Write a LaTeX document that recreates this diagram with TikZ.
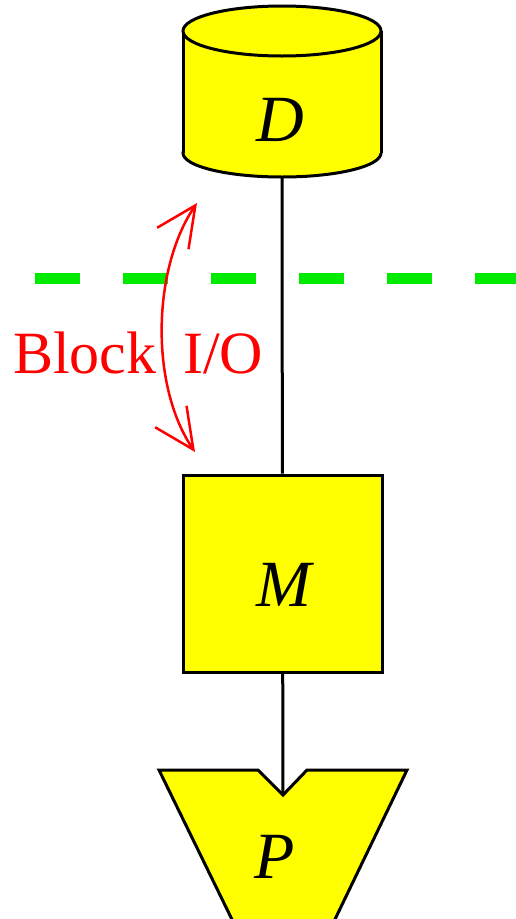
\documentclass[tikz,border=0pt]{standalone}
\usepackage{fontspec}
\setmainfont{Liberation Serif}
\usetikzlibrary{arrows.meta}
\definecolor{unityellow}{RGB}{255,255,0}
\definecolor{cutgreen}{RGB}{0,235,0}
\begin{document}
\begin{tikzpicture}[x=1pt,y=-1pt,
    unit/.style={draw,line width=3pt,fill=unityellow},
    lbl/.style={font=\fontsize{66}{68}\selectfont\itshape,inner sep=0pt},
    iolbl/.style={font=\fontsize{60}{62}\selectfont,text=red,inner sep=0pt,anchor=base west}]
    \useasboundingbox (0,0) rectangle (516,919);
    \clip (0,0) rectangle (516,919);
    \def\cx{282}
    % disk D
    \filldraw[unit] (\cx,153) ellipse [x radius=99,y radius=24];
    \fill[unityellow] (183,31) rectangle (381,153);
    \draw[line width=3pt] (183,31)--(183,153) (381,31)--(381,153);
    \filldraw[unit] (\cx,31) ellipse [x radius=99,y radius=25];
    \node[lbl] (D) at (280,120) {D};
    \coordinate (Dbot) at (\cx,177);
    % memory M
    \node[unit,minimum width=199pt,minimum height=197pt] (M) at (282.5,573.5) {};
    \node[lbl] (Mlbl) at (284,585) {M};
    % processor P
    \filldraw[unit] (159,770)--(258,770)--(283,795)--(307,770)--(407,770)
        --(325,940)--(242,940)--cycle;
    \coordinate (Pnotch) at (283,795);
    \node[lbl] (P) at (275,857) {P};
    \draw[line width=3pt] (Dbot)--(M);
    \draw[line width=3pt] (M)--(Pnotch);
    % cut line
    \draw[cutgreen,line width=11pt,dash pattern=on 45pt off 43pt] (35,278)--(530,278);
    % block transfer
    \coordinate (up) at (197,203);
    \coordinate (dn) at (195,452);
    \draw[red,line width=2.5pt,{Straight Barb[length=40pt,width=38pt]}-{Straight Barb[length=40pt,width=38pt]}]
        (up) .. controls (152,269) and (150,386) .. (dn);
    \node[iolbl] (blk) at (13,373) {Block};
    \node[iolbl] (io) at (183,373) {I/O};
\end{tikzpicture}
\end{document}
